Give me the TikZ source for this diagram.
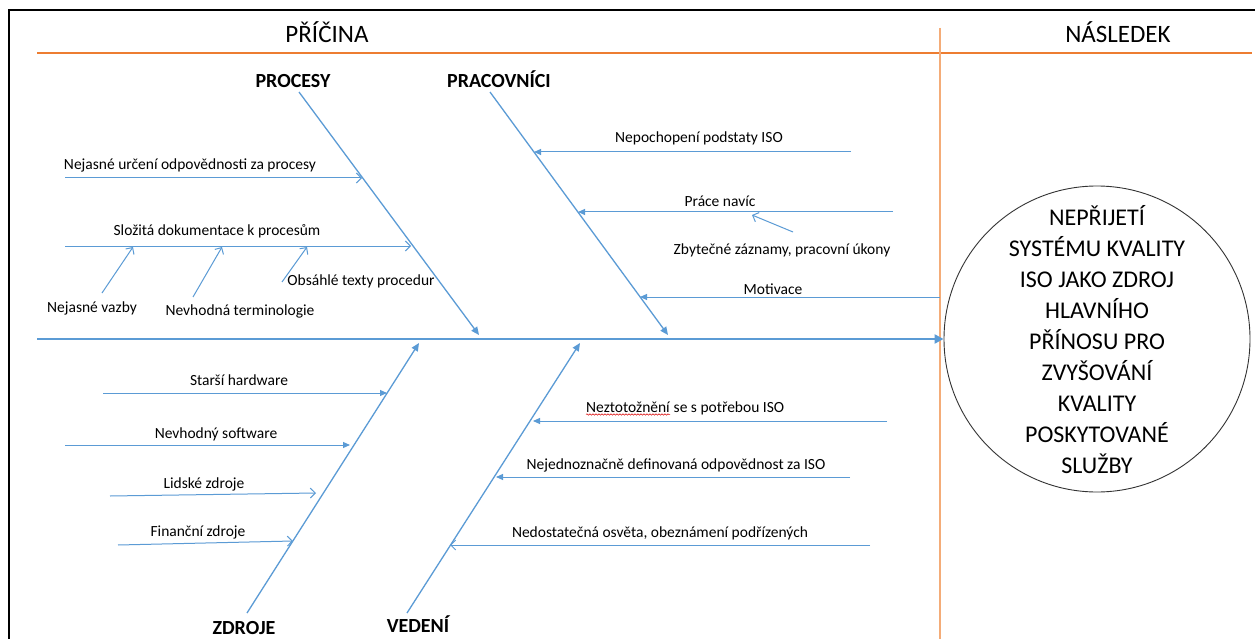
\documentclass[tikz,border=0pt]{standalone}
\usepackage{fontspec}
\setmainfont{Carlito}
\usetikzlibrary{arrows.meta,decorations.pathmorphing}
\definecolor{fishblue}{RGB}{91,155,213}
\definecolor{hdrorange}{RGB}{237,125,49}
\definecolor{divorange}{RGB}{244,172,120}
\begin{document}
\begin{tikzpicture}[x=1pt,y=-1pt,
  lab/.style={inner sep=0pt, anchor=base, font=\fontsize{15.5}{18}\selectfont},
  cat/.style={inner sep=0pt, anchor=base, font=\fontsize{20}{24}\selectfont\bfseries},
  hdr/.style={inner sep=0pt, anchor=base, font=\fontsize{25}{30}\selectfont},
  bone/.style={fishblue, line width=1.3pt, -{Triangle[length=8pt,width=7pt]}},
  rib/.style={fishblue, line width=1pt, -{Triangle[length=7pt,width=6pt]}},
  ribopen/.style={fishblue, line width=1pt, -{Straight Barb[length=5pt,width=10pt]}},
  ]
\useasboundingbox (0,0) rectangle (1255,639);
\clip (0,0) rectangle (1255,639);
\fill[white] (0,0) rectangle (1255,639);

% outer frame (top and left edges)
\draw[black, line width=2pt] (9,650) -- (9,10) -- (1265,10);

% header rule and cause/effect divider
\draw[hdrorange, line width=1.2pt] (37,53) -- (1252,53);
\draw[divorange, line width=1.2pt] (940,28) -- (940,645);
\node[hdr] (cause) at (327,43) {PŘÍČINA};
\node[hdr] (effect) at (1118,43) {NÁSLEDEK};

% effect
\node[circle, draw=black!80, line width=0.9pt, minimum size=306pt, inner sep=0pt] (goal) at (1097,339) {};
\node[align=center, inner sep=0pt, font=\fontsize{24}{31}\selectfont] (goaltext) at (1097,340)
  {NEPŘIJETÍ\\SYSTÉMU KVALITY\\ISO JAKO ZDROJ\\HLAVNÍHO\\PŘÍNOSU PRO\\ZVYŠOVÁNÍ\\KVALITY\\POSKYTOVANÉ\\SLUŽBY};

% spine
\coordinate (tail) at (37,339);
\draw[fishblue, line width=2.2pt, -{Triangle[length=9pt,width=9pt]}] (tail) -- (goal.west);

% category labels
\node[cat] (procesy) at (293,88) {PROCESY};
\node[cat] (pracovnici) at (499,88) {PRACOVNÍCI};
\node[cat] (zdroje) at (244,634) {ZDROJE};
\node[cat] (vedeni) at (418,632) {VEDENÍ};

% bones
\coordinate (procTop) at (299,92);  \coordinate (procTip) at (479,335);
\coordinate (pracTop) at (490,92);  \coordinate (pracTip) at (668,335);
\coordinate (zdrBot) at (247,613);  \coordinate (zdrTip) at (419,343);
\coordinate (vedBot) at (407,613);  \coordinate (vedTip) at (580,343);
\draw[bone] (procTop) -- (procTip);
\draw[bone] (pracTop) -- (pracTip);
\draw[bone] (zdrBot) -- (zdrTip);
\draw[bone] (vedBot) -- (vedTip);

% --- PROCESY ribs
\coordinate (p1s) at (65,178);  \coordinate (p1e) at (362,178);
\coordinate (p2s) at (65,246);  \coordinate (p2e) at (411,246);
\draw[ribopen] (p1s) -- (p1e);
\draw[ribopen] (p2s) -- (p2e);
\node[lab] (p1) at (190,170) {Nejasné určení odpovědnosti za procesy};
\node[lab] (p2) at (217,235) {Složitá dokumentace k procesům};
\coordinate (s1s) at (102,293); \coordinate (s1e) at (133,247);
\coordinate (s2s) at (193,297); \coordinate (s2e) at (222,247);
\coordinate (s3s) at (282,282); \coordinate (s3e) at (307,247);
\draw[ribopen] (s1s) -- (s1e);
\draw[ribopen] (s2s) -- (s2e);
\draw[ribopen] (s3s) -- (s3e);
\node[lab] (s1) at (92,312) {Nejasné vazby};
\node[lab] (s2) at (240,315) {Nevhodná terminologie};
\node[lab] (s3) at (361,285) {Obsáhlé texty procedur};

% --- PRACOVNÍCI ribs
\coordinate (w1s) at (851,152); \coordinate (w1e) at (534,152);
\coordinate (w2s) at (893,212); \coordinate (w2e) at (578,212);
\coordinate (w3s) at (793,232); \coordinate (w3e) at (752,215);
\coordinate (w4s) at (940,297); \coordinate (w4e) at (640,297);
\draw[rib] (w1s) -- (w1e);
\draw[rib] (w2s) -- (w2e);
\draw[ribopen] (w3s) -- (w3e);
\draw[rib] (w4s) -- (w4e);
\node[lab] (w1) at (699,143) {Nepochopení podstaty ISO};
\node[lab] (w2) at (720,207) {Práce navíc};
\node[lab] (w3) at (782,254) {Zbytečné záznamy, pracovní úkony};
\node[lab] (w4) at (773,294) {Motivace};

% --- ZDROJE ribs
\coordinate (z1s) at (103,393); \coordinate (z1e) at (387,393);
\coordinate (z2s) at (65,445);  \coordinate (z2e) at (350,445);
\coordinate (z3s) at (110,496); \coordinate (z3e) at (316,493);
\coordinate (z4s) at (118,545); \coordinate (z4e) at (293,541);
\draw[rib] (z1s) -- (z1e);
\draw[rib] (z2s) -- (z2e);
\draw[ribopen] (z3s) -- (z3e);
\draw[ribopen] (z4s) -- (z4e);
\node[lab] (z1) at (239,385) {Starší hardware};
\node[lab] (z2) at (216,438) {Nevhodný software};
\node[lab] (z3) at (204,488) {Lidské zdroje};
\node[lab] (z4) at (198,536) {Finanční zdroje};

% --- VEDENÍ ribs
\coordinate (v1s) at (887,421); \coordinate (v1e) at (533,421);
\coordinate (v2s) at (850,477); \coordinate (v2e) at (496,477);
\coordinate (v3s) at (870,545); \coordinate (v3e) at (450,545);
\draw[rib] (v1s) -- (v1e);
\draw[rib] (v2s) -- (v2e);
\draw[ribopen] (v3s) -- (v3e);
\node[lab, anchor=base west] (v1a) at (586,412) {Neztotožnění};
\node[lab, anchor=base west] (v1b) at ([xshift=3.5pt]v1a.base east) {se s potřebou ISO};
% spell-checker squiggle under the first word
\draw[red!85!black, line width=0.5pt, decorate, decoration={snake, amplitude=0.7pt, segment length=3pt}]
  ([yshift=-2.5pt]v1a.base west) -- ([yshift=-2.5pt]v1a.base east);
\node[lab] (v2) at (676,469) {Nejednoznačně definovaná odpovědnost za ISO};
\node[lab] (v3) at (660,537) {Nedostatečná osvěta, obeznámení podřízených};
\end{tikzpicture}
\end{document}
